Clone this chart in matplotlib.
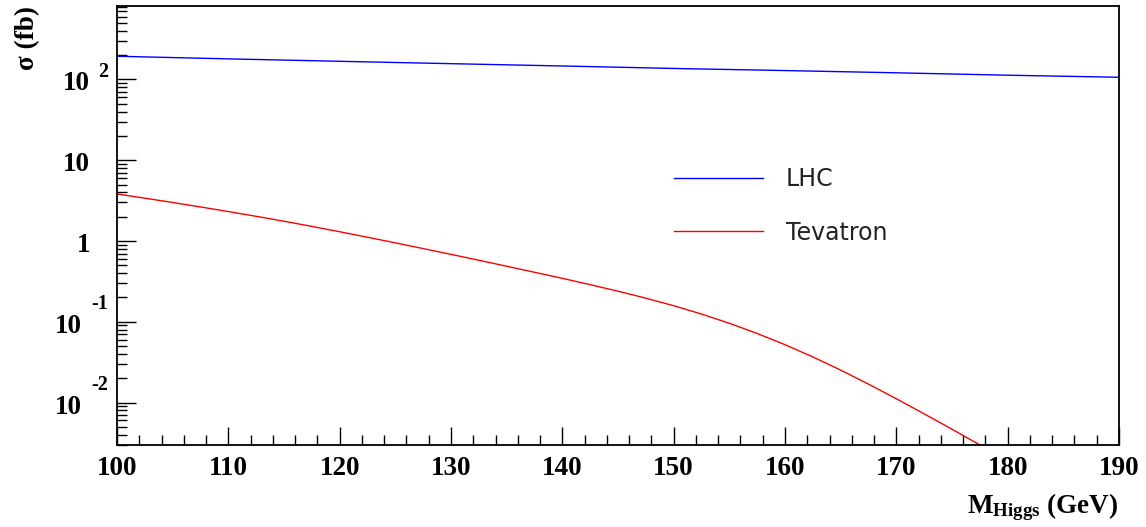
import matplotlib
matplotlib.use("Agg")
import matplotlib.pyplot as plt
import matplotlib.transforms as mtransforms
from matplotlib.ticker import MultipleLocator, LogLocator, NullFormatter, FixedLocator
import numpy as np

# ---------------- data ----------------
lhc_mass = [100, 110, 120, 130, 140, 150, 160, 170, 180, 190]
lhc_xsec = [194, 180, 168, 157, 147, 137, 129, 121, 113, 106.5]

tev_mass = [100, 102.5, 105, 107.5, 110, 112.5, 115, 117.5, 120, 122.5, 125,
            127.5, 130, 132.5, 135, 137.5, 140, 142.5, 145, 147.5, 150, 152.5,
            155, 157.5, 160, 162.5, 165, 167.5, 170, 172.5, 175, 177.5, 180]
tev_xsec = [3.82, 3.39, 3.00, 2.64, 2.315, 2.022, 1.757, 1.517, 1.302, 1.113,
            0.949, 0.806, 0.683, 0.578, 0.487, 0.410, 0.345, 0.288, 0.239,
            0.196, 0.158, 0.1246, 0.0958, 0.0716, 0.0520, 0.0367, 0.0252,
            0.0169, 0.01113, 0.00724, 0.00467, 0.00299, 0.00191]

series_labels = ["LHC", "Tevatron"]
x_ticks = [100, 110, 120, 130, 140, 150, 160, 170, 180, 190]
y_ticks = [1e-2, 1e-1, 1, 10, 100]
y_bases = ['10', '10', '1', '10', '10']
y_expos = ['-2', '-1', None, None, '2']

# ---------------- style ----------------
W, H = 1146, 527
plt.rcParams['mathtext.fontset'] = 'custom'
plt.rcParams['mathtext.rm'] = 'Liberation Serif'
plt.rcParams['mathtext.bf'] = 'Liberation Serif:bold'
serif = 'Liberation Serif'

fig = plt.figure(figsize=(W / 100, H / 100), dpi=100)
ax = fig.add_axes([117 / W, 1 - 445 / H, (1119 - 117) / W, (445 - 6) / H])

l1, = ax.plot(lhc_mass, lhc_xsec, color='#0000ff', lw=1.0, label=series_labels[0])
l2, = ax.plot(tev_mass, tev_xsec, color='#ff0000', lw=1.0, label=series_labels[1])

ax.set_yscale('log')
ax.set_xlim(100, 190)
ax.set_ylim(10 ** -2.526, 10 ** 2.91)

for s in ['top', 'right', 'left', 'bottom']:
    ax.spines[s].set_linewidth(1.3)
    ax.spines[s].set_color('black')

ax.xaxis.set_major_locator(FixedLocator(x_ticks))
ax.xaxis.set_minor_locator(MultipleLocator(2))
ax.set_xticklabels([str(v) for v in x_ticks])
ax.tick_params(axis='x', which='major', direction='in', length=13, width=1.0,
               pad=8, labelsize=19.5, top=False)
ax.tick_params(axis='x', which='minor', direction='in', length=7, width=1.0, top=False)
for lab in ax.get_xticklabels():
    lab.set_fontfamily(serif)
    lab.set_fontweight('bold')

ax.yaxis.set_major_locator(FixedLocator(y_ticks))
ax.yaxis.set_minor_locator(LogLocator(base=10, subs=np.arange(2, 10), numticks=20))
ax.yaxis.set_major_formatter(NullFormatter())
ax.yaxis.set_minor_formatter(NullFormatter())
ax.tick_params(axis='y', which='major', direction='in', length=14, width=1.0, right=False)
ax.tick_params(axis='y', which='minor', direction='in', length=7, width=1.0, right=False)

# ROOT-style y tick labels: base "10" plus raised exponent
ytr = ax.get_yaxis_transform()
def off(dx, dy):
    return mtransforms.offset_copy(ytr, fig=fig, x=dx * 0.72, y=dy * 0.72, units='points')

for v, base, expo in zip(y_ticks, y_bases, y_expos):
    if expo is not None and expo.startswith('-'):
        xr, eoff = 82, 12.5
    else:
        xr, eoff = 90, 2
    ax.text(0, v, base, transform=off(xr - 117, -11), ha='right', va='baseline',
            fontsize=19.5, fontweight='bold', fontfamily=serif)
    if expo is not None:
        ax.text(0, v, expo, transform=off(108 - 117, eoff), ha='right', va='baseline',
                fontsize=14.5, fontweight='bold', fontfamily=serif)

# axis titles
fig.text(28 / W, 1 - 6 / H, 'σ (fb)', rotation=90, ha='center', va='top',
         fontsize=19.5, fontweight='bold', fontfamily=serif)
fig.text(1118 / W, 1 - 513 / H, r'$\mathbf{M_{Higgs}}$ (GeV)', ha='right', va='baseline',
         fontsize=19.5, fontweight='bold', fontfamily=serif)

# legend
leg = fig.legend(handles=[l1, l2], loc='center left',
                 bbox_to_anchor=(674 / W, 1 - 206 / H), frameon=False,
                 handlelength=3.77, handletextpad=0.97, labelspacing=1.25,
                 borderpad=0, borderaxespad=0,
                 prop={'family': 'DejaVu Sans', 'size': 17})
for t in leg.get_texts():
    t.set_color('#222222')

fig.savefig('out.png', dpi=100)
